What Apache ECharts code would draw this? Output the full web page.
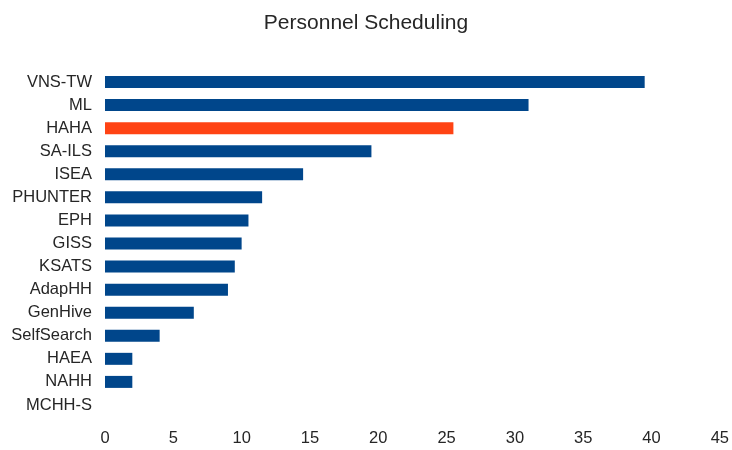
<!DOCTYPE html>
<html>
<head>
<meta charset="utf-8">
<script src="https://cdn.jsdelivr.net/npm/echarts@6/dist/echarts.min.js"></script>
<style>
  html, body { margin: 0; padding: 0; background: #fff; }
  #chart { width: 732px; height: 450px; }
</style>
</head>
<body>
<div id="chart"></div>
<script>
// Algorithms, listed top to bottom
const algorithms = ['VNS-TW', 'ML', 'HAHA', 'SA-ILS', 'ISEA', 'PHUNTER', 'EPH', 'GISS',
                    'KSATS', 'AdapHH', 'GenHive', 'SelfSearch', 'HAEA', 'NAHH', 'MCHH-S'];
// Score per algorithm
const scores = [39.5, 31, 25.5, 19.5, 14.5, 11.5, 10.5, 10, 9.5, 9, 6.5, 4, 2, 2, 0];
// Algorithm drawn in the accent colour
const highlighted = 'HAHA';

const baseColor = '#00468b';
const accentColor = '#ff4314';
const textColor = '#262626';
const font = 'Liberation Sans, Arial, sans-serif';

const chart = echarts.init(document.getElementById('chart'), null, { renderer: 'canvas' });

chart.setOption({
  animation: false,
  backgroundColor: '#ffffff',
  title: {
    text: 'Personnel Scheduling',
    left: 'center',
    top: 8,
    textStyle: { fontFamily: font, fontSize: 21, fontWeight: 'normal', color: textColor }
  },
  grid: { left: 105, right: 12, top: 70.5, bottom: 33.5, containLabel: false },
  xAxis: {
    type: 'value',
    min: 0,
    max: 45,
    interval: 5,
    axisLine: { show: false },
    axisTick: { show: false },
    splitLine: { show: false },
    axisLabel: { margin: 13, fontFamily: font, fontSize: 16.5, color: textColor }
  },
  yAxis: {
    type: 'category',
    data: algorithms,
    inverse: true,
    axisLine: { show: false },
    axisTick: { show: false },
    splitLine: { show: false },
    axisLabel: { margin: 13, fontFamily: font, fontSize: 16.5, color: textColor }
  },
  series: [{
    type: 'bar',
    barWidth: 12,
    data: scores.map((v, i) => ({
      value: v,
      itemStyle: { color: algorithms[i] === highlighted ? accentColor : baseColor }
    }))
  }]
});
</script>
</body>
</html>
